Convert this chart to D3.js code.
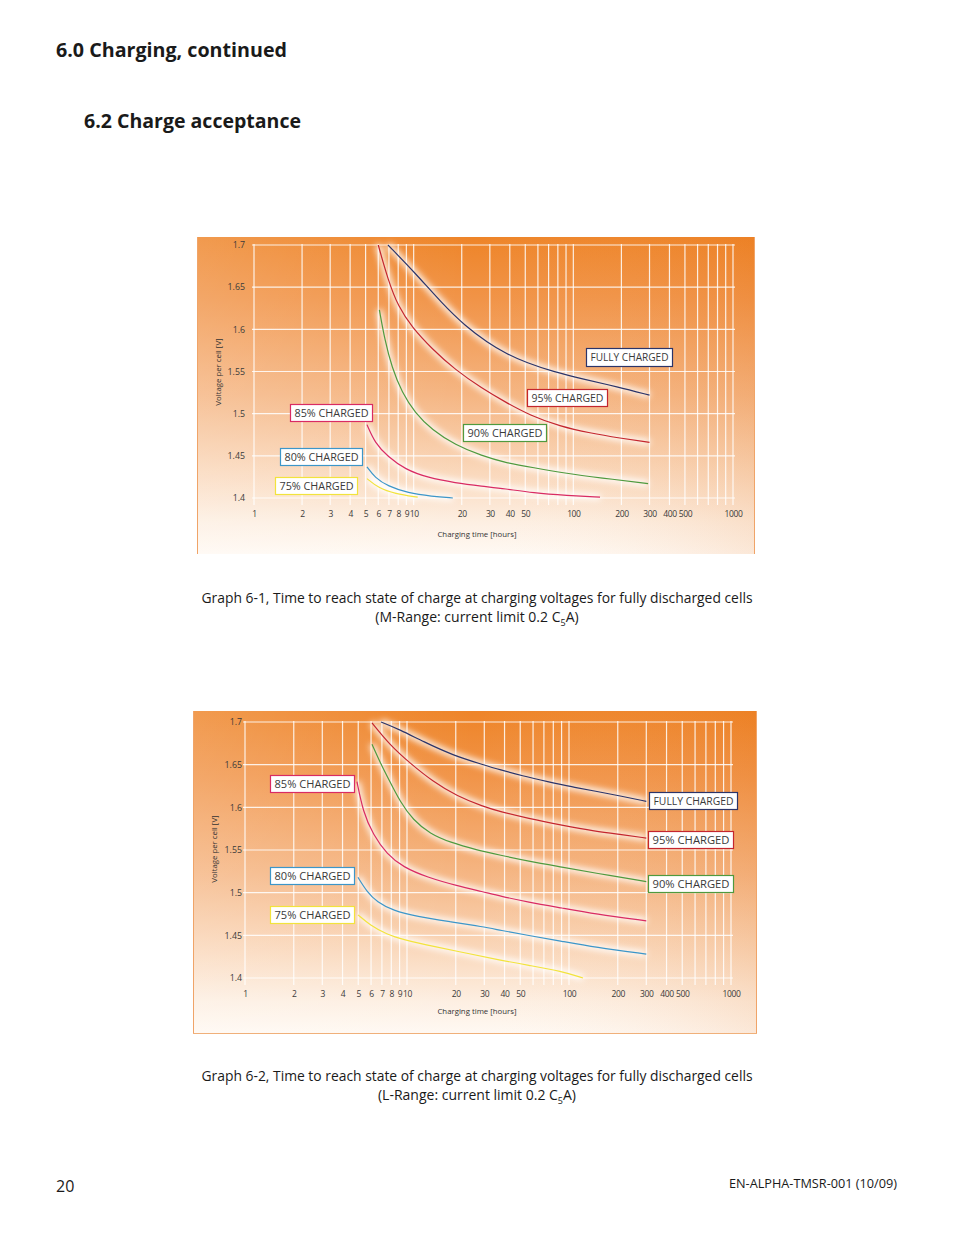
<!DOCTYPE html>
<html>
<head>
<meta charset="utf-8">
<script src="https://cdn.jsdelivr.net/npm/d3@7"></script>
<style>
  html, body { margin: 0; padding: 0; background: #fff; }
  svg { display: block; }
  text { font-family: "Open Sans", "Noto Sans", sans-serif; }
</style>
</head>
<body>
<svg id="page" width="954" height="1235"></svg>
<script>
// ---------- DATA ----------
const xTickValues = [1,2,3,4,5,6,7,8,9,10,20,30,40,50,100,200,300,400,500,1000];
const xGridValues = [1,2,3,4,5,6,7,8,9,10,20,30,40,50,60,70,80,90,100,200,300,400,500,600,700,800,900,1000];
const yTickValues = [1.4,1.45,1.5,1.55,1.6,1.65,1.7];
const seriesNames = ["FULLY CHARGED","95% CHARGED","90% CHARGED","85% CHARGED","80% CHARGED","75% CHARGED"];
const seriesColors = ["#2b3469","#c4262e","#4f9a3e","#d92b63","#3c96c9","#f2e33c"];

// Graph 6-1 (M-Range) : [hours, volts]
const m_full = [[6.9,1.700],[10.2,1.667],[15,1.631],[21,1.604],[29.2,1.584],[37.3,1.572],[51.3,1.560],[74.6,1.550],[115,1.541],[188,1.532],[300,1.522]];
const m_95   = [[6.0,1.700],[6.9,1.659],[8.0,1.627],[9.8,1.602],[13,1.577],[18.2,1.552],[26.8,1.530],[37.3,1.514],[53.5,1.498],[82.5,1.485],[127,1.477],[196,1.471],[300,1.466]];
const m_90   = [[6.1,1.623],[6.6,1.587],[7.3,1.555],[8.45,1.525],[10.2,1.501],[13,1.481],[18.2,1.463],[26.8,1.450],[37.3,1.442],[55.9,1.436],[91.3,1.429],[147,1.424],[294,1.417]];
const m_85   = [[5.1,1.487],[5.73,1.465],[6.9,1.449],[8.83,1.434],[12.3,1.424],[18.2,1.418],[26.8,1.414],[37.3,1.411],[55.9,1.406],[91.3,1.403],[147,1.401]];
const m_80   = [[5.1,1.437],[5.73,1.424],[6.9,1.414],[9.2,1.406],[13,1.402],[17.6,1.400]];
const m_75   = [[5.1,1.423],[6.0,1.412],[7.64,1.405],[10.6,1.401]];

// Graph 6-2 (L-Range)
const l_full = [[6.91,1.700],[9.05,1.691],[12.6,1.677],[19.2,1.661],[29.5,1.650],[37.5,1.644],[51.3,1.637],[74.2,1.630],[104,1.624],[145,1.619],[212,1.613],[300,1.607]];
const l_95   = [[6.08,1.699],[7.85,1.673],[10.4,1.652],[14.5,1.630],[20.4,1.613],[29.5,1.601],[37.5,1.595],[55.8,1.587],[90.5,1.579],[145,1.572],[212,1.568],[300,1.564]];
const l_90   = [[6.08,1.674],[6.81,1.653],[7.85,1.630],[9.05,1.607],[10.9,1.585],[13.9,1.569],[18.4,1.559],[27,1.550],[37.5,1.544],[55.8,1.537],[90.5,1.530],[145,1.523],[300,1.513]];
const l_85   = [[4.91,1.630],[5.35,1.595],[6.17,1.568],[7.52,1.545],[9.45,1.530],[13.3,1.518],[20.4,1.508],[29.5,1.501],[37.5,1.496],[55.8,1.489],[90.5,1.482],[145,1.475],[300,1.467]];
const l_80   = [[4.98,1.518],[5.66,1.501],[6.53,1.489],[8.2,1.479],[11.5,1.472],[18.4,1.466],[29.5,1.460],[37.5,1.456],[55.8,1.450],[90.5,1.443],[145,1.436],[300,1.428]];
const l_75   = [[4.98,1.474],[5.91,1.462],[7.52,1.451],[9.45,1.445],[14.5,1.437],[23.5,1.429],[37.5,1.421],[55.8,1.415],[90.5,1.408],[122,1.400]];

const headingMain = "6.0 Charging, continued";
const headingSub = "6.2 Charge acceptance";
const caption1 = "Graph 6-1, Time to reach state of charge at charging voltages for fully discharged cells";
const caption1b = ["(M-Range: current limit 0.2 C", "5", "A)"];
const caption2 = "Graph 6-2, Time to reach state of charge at charging voltages for fully discharged cells";
const caption2b = ["(L-Range: current limit 0.2 C", "5", "A)"];
const pageNum = "20";
const docRef = "EN-ALPHA-TMSR-001 (10/09)";
const yTitle = "Voltage per cell [V]";
const xTitle = "Charging time [hours]";

// ---------- DRAW ----------
const svg = d3.select("#page");
svg.append("rect").attr("width",954).attr("height",1235).attr("fill","#fff");

const defs = svg.append("defs");
const grad = defs.append("linearGradient").attr("id","bgGrad").attr("x1",0).attr("y1",0).attr("x2",0).attr("y2",1);
[[0,"#ee8428"],[0.2,"#f19448"],[0.5,"#f5b582"],[0.75,"#fad9bd"],[0.9,"#fdefe2"],[1,"#fff9f3"]]
  .forEach(([o,c]) => grad.append("stop").attr("offset",o).attr("stop-color",c));
const gradH = defs.append("linearGradient").attr("id","bgGradH").attr("x1",0).attr("y1",0).attr("x2",1).attr("y2",0);
[[0,"#ffffff",0.18],[0.5,"#ffffff",0.0],[1,"#e06a10",0.12]]
  .forEach(([o,c,a]) => gradH.append("stop").attr("offset",o).attr("stop-color",c).attr("stop-opacity",a));
const glow = defs.append("filter").attr("id","glow").attr("x","-20%").attr("y","-20%").attr("width","140%").attr("height","140%");
glow.append("feGaussianBlur").attr("stdDeviation",3);

svg.append("text").attr("x",56).attr("y",57).attr("font-size",20).attr("font-weight","bold")
  .attr("fill","#1a1a1a").attr("textLength",231).attr("lengthAdjust","spacingAndGlyphs").text(headingMain);
svg.append("text").attr("x",84).attr("y",128).attr("font-size",20).attr("font-weight","bold")
  .attr("fill","#1a1a1a").attr("textLength",217).attr("lengthAdjust","spacingAndGlyphs").text(headingSub);

function drawChart(cfg) {
  const g = svg.append("g");
  const b = cfg.box;
  g.append("rect").attr("x",b.x).attr("y",b.y).attr("width",b.w).attr("height",b.h).attr("fill","url(#bgGrad)");
  g.append("rect").attr("x",b.x).attr("y",b.y).attr("width",b.w).attr("height",b.h).attr("fill","url(#bgGradH)");
  // frame
  g.append("line").attr("x1",b.x+0.5).attr("x2",b.x+0.5).attr("y1",b.y).attr("y2",b.y+b.h).attr("stroke","#f0a468").attr("stroke-width",1);
  g.append("line").attr("x1",b.x+b.w-0.5).attr("x2",b.x+b.w-0.5).attr("y1",b.y).attr("y2",b.y+b.h).attr("stroke","#f0a468").attr("stroke-width",1);
  if (cfg.bottomBorder) g.append("line").attr("x1",b.x).attr("x2",b.x+b.w).attr("y1",b.y+b.h-0.5).attr("y2",b.y+b.h-0.5).attr("stroke","#f0b07a").attr("stroke-width",1);

  const x = d3.scaleLog().domain([1,1000]).range(cfg.xr);
  const y = d3.scaleLinear().domain([1.4,1.7]).range(cfg.yr);

  // grid
  const grid = g.append("g").attr("stroke","#fff").attr("stroke-opacity",0.85).attr("stroke-width",1.2);
  grid.selectAll("line.v").data(xGridValues).join("line").attr("class","v")
    .attr("x1",d=>x(d)).attr("x2",d=>x(d)).attr("y1",y(1.7)-1).attr("y2",y(1.4)+7);
  grid.selectAll("line.h").data(yTickValues).join("line").attr("class","h")
    .attr("x1",x(1)-2).attr("x2",x(1000)+2).attr("y1",d=>y(d)).attr("y2",d=>y(d));

  // axes via d3.axis (text only)
  const xAxis = g.append("g").attr("transform",`translate(0,${cfg.xLabelY})`)
    .call(d3.axisBottom(x).tickValues(xTickValues).tickFormat(d3.format("d")).tickSize(0).tickPadding(0));
  xAxis.select(".domain").remove();
  xAxis.selectAll("text").attr("font-size",8.5).attr("fill","#3a3a3a").attr("font-family","'Open Sans', sans-serif")
    .attr("letter-spacing","-0.4px").attr("dy","0.32em");
  const yAxis = g.append("g").attr("transform",`translate(${cfg.yLabelX},0)`)
    .call(d3.axisLeft(y).tickValues(yTickValues).tickFormat(d=>d3.format("")(+d.toFixed(2))).tickSize(0).tickPadding(0));
  yAxis.select(".domain").remove();
  yAxis.selectAll("text").attr("font-size",8.8).attr("fill","#3a3a3a").attr("font-family","'Open Sans', sans-serif").attr("dy","0.32em");

  g.append("text").attr("transform",`translate(${cfg.yTitlePos[0]},${cfg.yTitlePos[1]}) rotate(-90)`)
    .attr("text-anchor","middle").attr("font-size",7.8).attr("fill","#333").text(yTitle);
  g.append("text").attr("x",cfg.xTitlePos[0]).attr("y",cfg.xTitlePos[1])
    .attr("text-anchor","middle").attr("font-size",7.8).attr("fill","#333").text(xTitle);

  const line = d3.line().x(d=>x(d[0])).y(d=>y(d[1])).curve(d3.curveBasis);
  // glow behind curves
  const glowG = g.append("g").attr("filter","url(#glow)");
  cfg.series.forEach((s)=> {
    glowG.append("path").attr("d",line(s)).attr("fill","none").attr("stroke","#fff").attr("stroke-width",6).attr("stroke-opacity",0.95);
  });
  cfg.series.forEach((s,i)=> {
    g.append("path").attr("d",line(s)).attr("fill","none").attr("stroke",seriesColors[i]).attr("stroke-width",1.2);
  });

  // label boxes
  cfg.labels.forEach((L,i)=> {
    g.append("rect").attr("x",L[0]+0.5).attr("y",L[1]+0.5).attr("width",L[2]).attr("height",L[3])
      .attr("fill","#fff").attr("stroke",seriesColors[i]).attr("stroke-width",1.2);
    g.append("text").attr("x",L[0]+L[2]/2+0.5).attr("y",L[1]+L[3]/2+0.5).attr("dy","0.36em")
      .attr("text-anchor","middle").attr("font-size",10.5).attr("fill","#3a3a3a")
      .attr("textLength",L[2]-8).attr("lengthAdjust","spacingAndGlyphs").text(seriesNames[i]);
  });

  // captions
  g.append("text").attr("x",477).attr("y",cfg.capY).attr("text-anchor","middle").attr("font-size",14)
    .attr("fill","#1a1a1a").attr("textLength",551).attr("lengthAdjust","spacingAndGlyphs").text(cfg.cap);
  const t2 = g.append("text").attr("x",477).attr("y",cfg.capY+19).attr("text-anchor","middle").attr("font-size",14).attr("fill","#1a1a1a");
  t2.append("tspan").text(cfg.capB[0]);
  t2.append("tspan").attr("font-size",9).attr("dy",4).text(cfg.capB[1]);
  t2.append("tspan").attr("dy",-4).text(cfg.capB[2]);
}

drawChart({
  box:{x:197,y:237,w:558,h:317}, bottomBorder:false,
  xr:[254,733], yr:[498,245], xLabelY:514, yLabelX:245,
  yTitlePos:[221,372], xTitlePos:[477,537],
  series:[m_full,m_95,m_90,m_85,m_80,m_75],
  labels:[[586,348,86,18],[527,389,80,17],[463,424,83,17],[290,404,82,17],[280,448,82,17],[275,477,82,17]],
  cap:caption1, capB:caption1b, capY:603
});
drawChart({
  box:{x:193,y:711,w:564,h:323}, bottomBorder:true,
  xr:[245,731], yr:[978,722], xLabelY:994, yLabelX:242,
  yTitlePos:[217,849], xTitlePos:[477,1014],
  series:[l_full,l_95,l_90,l_85,l_80,l_75],
  labels:[[649,792,88,17],[648,831,85,17],[648,875,85,17],[270,775,84,17],[270,867,84,17],[270,906,84,17]],
  cap:caption2, capB:caption2b, capY:1081
});

svg.append("text").attr("x",56).attr("y",1192).attr("font-size",16).attr("fill","#1a1a1a").text(pageNum);
svg.append("text").attr("x",897).attr("y",1188).attr("text-anchor","end").attr("font-size",12.5).attr("fill","#1a1a1a")
  .attr("textLength",168).attr("lengthAdjust","spacingAndGlyphs").text(docRef);
</script>
</body>
</html>
